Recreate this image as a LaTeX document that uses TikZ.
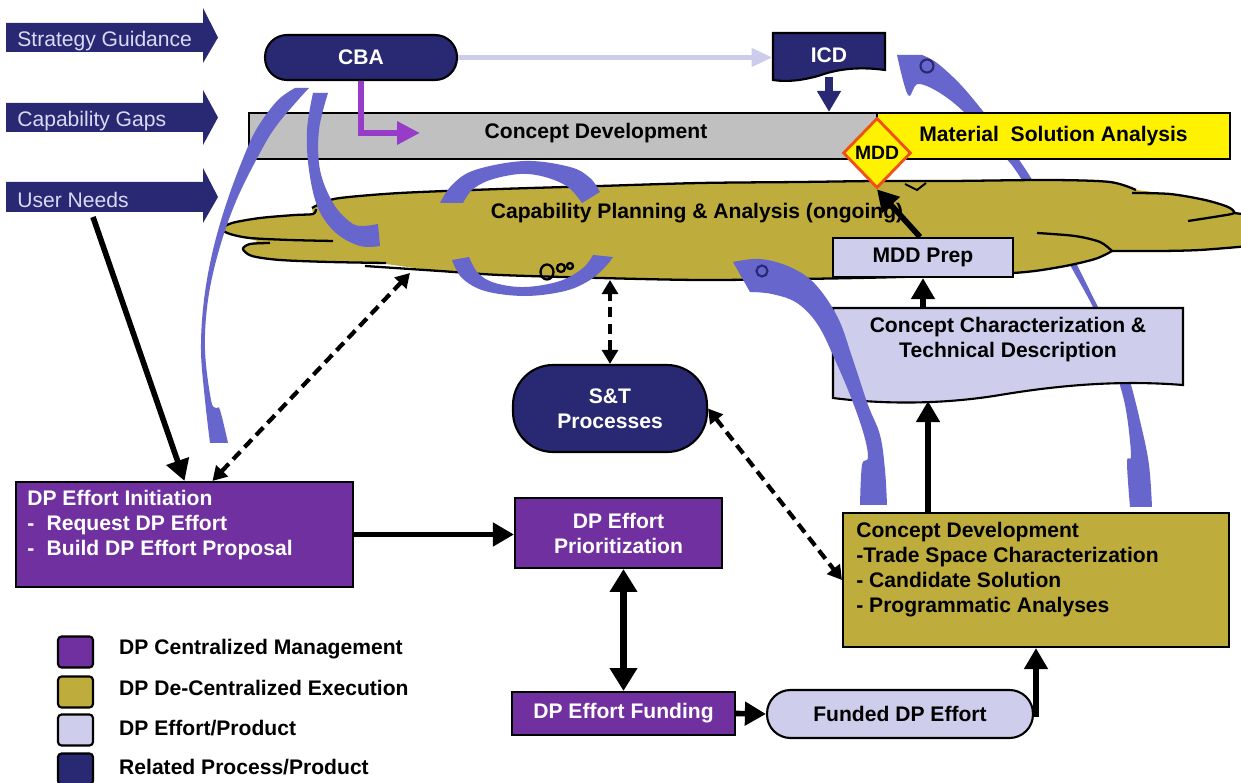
\documentclass[tikz,border=0pt]{standalone}
\usepackage{fontspec}
\setmainfont{Liberation Sans}
\usetikzlibrary{arrows.meta,shapes.geometric}

\definecolor{navy}{RGB}{40,40,115}
\definecolor{dppurple}{RGB}{112,48,160}
\definecolor{olive}{RGB}{190,172,60}
\definecolor{lav}{RGB}{206,206,236}
\definecolor{ribbon}{RGB}{102,102,204}
\definecolor{barg}{RGB}{192,192,192}
\definecolor{cbapurple}{RGB}{150,60,200}
\definecolor{intext}{RGB}{218,218,245}
\definecolor{mddred}{RGB}{240,80,20}
\definecolor{paleline}{RGB}{205,205,235}

\begin{document}
\begin{tikzpicture}[x=0.02cm, y=-0.02cm,
  txt/.style={font=\fontsize{12}{14.2}\selectfont\bfseries},
  box/.style={draw=black, line width=1.2pt, inner sep=0pt, txt, align=center},
  mgmt/.style={box, fill=dppurple, text=white},
  prod/.style={box, fill=lav},
  exec/.style={box, fill=olive},
  rel/.style={box, fill=navy, text=white},
  intxt/.style={font=\fontsize{12}{14}\selectfont, text=intext, inner sep=0pt},
  blk/.style={line width=3.2pt, -{Triangle[length=12pt,width=13pt]}},
  dblk/.style={line width=4pt, {Triangle[length=13pt,width=15pt]}-{Triangle[length=13pt,width=15pt]}},
  dsh/.style={line width=2.4pt, dash pattern=on 6pt off 3.5pt,
              {Triangle[length=8pt,width=9pt]}-{Triangle[length=8pt,width=9pt]}},
  rib/.style={fill=ribbon},
  cl/.style={draw=black, line width=1.3pt},
  legbox/.style={draw=black, line width=1.2pt, rounded corners=2pt, minimum width=0.7cm, minimum height=0.62cm, inner sep=0pt}
]
\useasboundingbox (0,0) rectangle (1241,783);
\clip (0,0) rectangle (1241,783);
\fill[white] (0,0) rectangle (1241,783);

% long return ribbon behind the bars and the cloud
\fill[rib] plot[smooth, tension=0.6] coordinates {(1152,507) (1149,465) (1141,425) (1128,375) (1110,330) (1097,305) (1076,263) (1055,222) (1031,178) (1003,137) (982,110) (960,84) (937,63) (922,55)}
  -- plot[smooth, tension=0.6] coordinates {(897,55) (908,95) (918,84) (940,93) (965,113) (988,140) (1014,168) (1040,212) (1070,265) (1093,307) (1105,335) (1117,375) (1126,410) (1131,455) (1127,462) (1130,507)} -- cycle;

% phase bars
\node[draw=black, line width=1.2pt, fill=barg, minimum width=12.56cm, minimum height=0.92cm, inner sep=0pt] (cdbar) at (563,136) {};
\node[txt] (cdlbl) at (596,133) {Concept Development};
\node[draw=black, line width=1.2pt, fill=yellow, minimum width=7.06cm, minimum height=0.92cm, inner sep=0pt, txt] (msa) at (1053.5,136) {Material~~Solution Analysis};

% capability planning cloud: fill first, then the lobe outlines
\fill[olive] plot[smooth, tension=0.5] coordinates {(312,208) (322,203) (340,198) (400,193) (500,189) (600,186) (700,183) (800,182) (877,181) (950,181) (1050,180) (1110,182) (1136,190)}
  -- plot[smooth, tension=0.5] coordinates {(1170,194) (1205,200) (1228,207) (1234,213)}
  -- (1250,214) -- (1250,246)
  -- plot[smooth, tension=0.5] coordinates {(1200,250) (1160,251) (1112,251) (1095,259) (1060,267) (1013,273) (900,277) (800,279) (700,280) (600,278) (500,275) (440,271) (386,264)}
  -- plot[smooth, tension=0.5] coordinates {(330,262) (280,260) (252,256) (243,249) (250,244) (258,241)}
  -- plot[smooth, tension=0.5] coordinates {(245,238) (230,234) (222,229) (232,223) (260,218) (295,215) (313,214)} -- cycle;
\draw[cl] plot[smooth, tension=0.5] coordinates {(312,208) (322,203) (340,198) (400,193) (500,189) (600,186) (700,183) (800,182) (877,181) (950,181) (1050,180) (1110,182) (1136,190)};
\draw[cl] plot[smooth, tension=0.5] coordinates {(1132,193) (1170,194) (1205,200) (1228,207) (1234,213) (1220,216) (1188,221)};
\draw[cl] (1234,213) -- (1250,215);
\draw[cl] plot[smooth, tension=0.5] coordinates {(333,241) (290,240) (250,238) (230,234) (222,229) (232,223) (260,218) (295,215) (313,214) (316,209)};
\draw[cl] plot[smooth, tension=0.5] coordinates {(270,243) (250,244) (243,249) (252,256) (280,260) (330,262) (386,263)};
\draw[cl] plot[smooth, tension=0.5] coordinates {(365,266) (440,271) (500,275) (600,278) (700,280) (800,279) (900,277) (1013,273) (1060,267) (1095,259) (1112,251)};
\draw[cl] plot[smooth, tension=0.5] coordinates {(1037,233) (1075,236) (1100,242) (1112,251)};
\draw[cl] plot[smooth, tension=0.5] coordinates {(1112,251) (1160,251) (1200,250) (1250,246)};
\draw[line width=1.1pt] (905,184) -- (917,190) -- (926,183);
\coordinate (cl1) at (410,273);
\coordinate (cl2) at (610,280);
\node[txt] (cpa) at (697,213) {Capability Planning \& Analysis (ongoing)};

% feedback ribbons
\fill[rib] plot[smooth, tension=0.6] coordinates {(210,443) (205,400) (201,350) (204,300) (213,250) (227.5,200) (246.5,150) (259,125) (278,100) (295,88)}
  -- plot[smooth, tension=0.6] coordinates {(309,88) (298,100) (277,125) (261.5,150) (236.5,200) (219,250) (208,300) (205,350) (211,400) (216,408) (220,410) (228,443)} -- cycle;
\fill[rib] plot[smooth, tension=0.6] coordinates {(313,93) (307,130) (309,170) (318,208) (336,233) (360,246) (380,246)}
  -- plot[smooth, tension=0.6] coordinates {(378,224) (362,226) (350,222) (333,203) (320,170) (319,130) (328,93)} -- cycle;
\fill[rib] plot[smooth, tension=0.6] coordinates {(440,203) (452,185) (475,170) (525,161) (570,167) (590,178) (600,192)}
  -- plot[smooth, tension=0.6] coordinates {(582,203) (568,187) (545,177) (520,174) (490,180) (472,190) (463,203)} -- cycle;
\fill[rib] plot[smooth, tension=0.6] coordinates {(452,260) (462,278) (485,291) (525,296) (565,291) (590,280) (606,266) (613,257)}
  -- plot[smooth, tension=0.6] coordinates {(593,255) (583,268) (560,281) (525,287) (495,283) (478,273) (469,257)} -- cycle;
\draw[line width=1.3pt] (547,272) ellipse [x radius=0.13cm, y radius=0.15cm];
\draw[line width=1.3pt] (561,268) circle [radius=0.08cm];
\draw[line width=1.3pt] (570,266) circle [radius=0.06cm];

% related process / product
\node[rel, minimum width=3.84cm, minimum height=0.9cm, rounded corners=0.44cm] (cba) at (361,57.5) {CBA};
\draw[line width=1.2pt, fill=navy] (773,33) -- (885,33) -- (885,70) .. controls (855,66) and (835,70) .. (818,76) .. controls (800,81) and (785,82) .. (773,80) -- cycle;
\node[txt, text=white, minimum width=2.24cm, minimum height=0.88cm, inner sep=0pt] (icd) at (829,55) {ICD};
\draw[paleline, line width=3.4pt, -{Triangle[length=12pt,width=10pt]}] (cba.east) -- (cba.east -| icd.west);
\coordinate (cdtip) at (420,133);
\draw[cbapurple, line width=3.4pt, -{Triangle[length=13pt,width=12.5pt]}] (cba.south) |- (cdtip);
\draw[navy, line width=4.5pt, -{Triangle[length=12pt,width=13pt]}] (icd.south) -- (icd.south |- cdbar.north);

% milestone decision
\node[diamond, draw=mddred, line width=1.6pt, fill=yellow, minimum width=1.36cm, minimum height=1.4cm, inner sep=0pt, font=\fontsize{11}{13}\selectfont\bfseries] (mdd) at (877,153) {MDD};

% execution chain
\node[prod, minimum width=3.6cm, minimum height=0.78cm] (mddprep) at (923,257.5) {MDD Prep};
\draw[line width=1.2pt, fill=lav] (833,308) -- (1183,308) -- (1183,385) .. controls (1120,380) and (1060,385) .. (1000,395) .. controls (940,405) and (880,404) .. (833,398) -- cycle;
\node[txt, align=center, minimum width=7cm, minimum height=1.28cm, inner sep=0pt] (cc) at (1008,340) {Concept Characterization \&\\Technical Description};
\coordinate (ccb) at (928,401);
\node[exec, minimum width=7.72cm, minimum height=2.68cm] (cdev) at (1036,580) {};
\node[txt, anchor=west, align=left, inner sep=0pt] (cdevlbl) at (856,570) {Concept Development\\-Trade Space Characterization\\- Candidate Solution\\- Programmatic Analyses};
\node[prod, minimum width=5.32cm, minimum height=0.96cm, rounded corners=0.47cm] (funded) at (900,714) {Funded DP Effort};

% centralized management
\node[mgmt, minimum width=4.46cm, minimum height=0.86cm] (fund) at (623.5,713.5) {DP Effort Funding};
\node[mgmt, minimum width=4.14cm, minimum height=1.4cm] (prio) at (618.5,533) {DP Effort\\Prioritization};
\node[rel, minimum width=3.88cm, minimum height=1.74cm, rounded corners=0.8cm] (st) at (610,408.5) {S\&T\\Processes};
\node[mgmt, minimum width=6.74cm, minimum height=2.1cm] (init) at (184.5,534.5) {};
\node[txt, text=white, anchor=west, align=left, inner sep=0pt] (initlbl) at (27,525) {DP Effort Initiation\\-\hspace{7pt}Request DP Effort\\-\hspace{7pt}Build DP Effort Proposal};

% ribbon from the cloud into concept development
\fill[rib] plot[smooth, tension=0.6] coordinates {(733,262) (760,259) (790,267) (815,284) (838,318) (853,360) (868,405) (880,435) (885,470) (887,505)}
  -- plot[smooth, tension=0.6] coordinates {(860,505) (862,465) (868,458) (864,435) (852,400) (836,362) (818,325) (797,303) (772,294) (750,292)} -- cycle;
\draw[navy, line width=1.2pt] (762,271) circle [radius=0.11cm];
\draw[navy, line width=1.2pt] (927,66) circle [radius=0.13cm];

% input arrows
\fill[navy] (6,23) -- (203,23) -- (203,8) -- (218,37.5) -- (203,63) -- (203,52) -- (6,52) -- cycle;
\node[intxt, anchor=west] (sg) at (17,41) {Strategy Guidance};
\fill[navy] (6,103) -- (203,103) -- (203,90) -- (218,117.5) -- (203,145) -- (203,132) -- (6,132) -- cycle;
\node[intxt, anchor=west] (cg) at (17,121) {Capability Gaps};
\fill[navy] (6,182) -- (203,182) -- (203,168) -- (218,197) -- (203,223) -- (203,212) -- (6,212) -- cycle;
\node[intxt, anchor=west] (un) at (17,200) {User Needs};
\coordinate (unfoot) at (93,217);

% connectors
\draw[blk] (unfoot) -- (init.north);
\draw[dsh] ([xshift=0.56cm]init.north) -- (cl1);
\draw[dsh] (st.north) -- (st.north |- cl2);
\draw[dsh] (st.east) -- (cdev.west);
\draw[blk] (init.east) -- (init.east -| prio.west);
\draw[dblk] (fund.north |- prio.south) -- (fund.north);
\draw[blk] (fund.east) -- (funded.west);
\draw[blk] (funded.east) -| (cdev.south);
\draw[blk] (cdev.north -| ccb) -- (ccb);
\draw[blk] (mddprep.south |- cc.north) -- (mddprep.south);
\draw[blk] ([xshift=-0.06cm]mddprep.north) -- (mdd.south);

% legend
\node[legbox, fill=dppurple] (lg1) at (75.5,652) {};
\node[txt, anchor=west] (lt1) at (113,649) {DP Centralized Management};
\node[legbox, fill=olive] (lg2) at (75.5,692) {};
\node[txt, anchor=west] (lt2) at (113,688) {DP De-Centralized Execution};
\node[legbox, fill=lav] (lg3) at (75.5,730) {};
\node[txt, anchor=west] (lt3) at (113,728) {DP Effort/Product};
\node[legbox, fill=navy] (lg4) at (75.5,769) {};
\node[txt, anchor=west] (lt4) at (113,767) {Related Process/Product};
\end{tikzpicture}
\end{document}
